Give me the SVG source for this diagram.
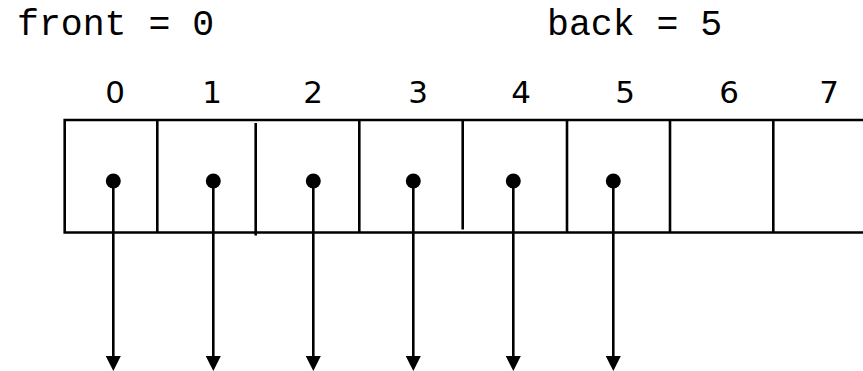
<svg xmlns="http://www.w3.org/2000/svg" width="863" height="371" viewBox="0 0 863 371">
  <style>
    .code { font-family: "Liberation Mono", "Courier New", monospace; font-size: 36.5px; fill: #000; }
    .idx { font-family: "DejaVu Sans", "Liberation Sans", sans-serif; font-size: 31px; fill: #000; text-anchor: middle; }
    .edge { stroke: #000; stroke-width: 2.6; fill: none; }
    .ptr { stroke: #000; stroke-width: 2.6; fill: none; marker-end: url(#arrow); }
    .dot { fill: #000; }
  </style>
  <defs>
    <!-- solid triangular head, drawn along +x so orient="auto" turns it with the line -->
    <marker id="arrow" markerWidth="15" markerHeight="15" refX="1" refY="7.5" orient="auto" markerUnits="userSpaceOnUse" viewBox="0 0 15 15">
      <path d="M0,0 L15,7.5 L0,15 Z" fill="#000"/>
    </marker>
  </defs>
  <rect width="863" height="371" fill="#fff"/>

  <g id="labels">
    <text class="code" x="17" y="35">front = 0</text>
    <text class="code" x="547" y="35">back = 5</text>
  </g>

  <g id="indices">
    <text class="idx" x="115" y="103">0</text>
    <text class="idx" x="212" y="103">1</text>
    <text class="idx" x="313" y="103">2</text>
    <text class="idx" x="418" y="103">3</text>
    <text class="idx" x="521" y="103">4</text>
    <text class="idx" x="625" y="103">5</text>
    <text class="idx" x="729" y="103">6</text>
    <text class="idx" x="829" y="103">7</text>
  </g>

  <g id="array">
    <path class="edge" d="M865,120 H64.7 V232.5 H865"/>
    <line class="edge" x1="157.3" y1="120" x2="157.3" y2="232.5"/>
    <line class="edge" x1="255.7" y1="123" x2="255.7" y2="235.5"/>
    <line class="edge" x1="359.3" y1="120" x2="359.3" y2="232.5"/>
    <line class="edge" x1="462.7" y1="120" x2="462.7" y2="229.5"/>
    <line class="edge" x1="567" y1="120" x2="567" y2="232.5"/>
    <line class="edge" x1="670" y1="120" x2="670" y2="232.5"/>
    <line class="edge" x1="773.3" y1="120" x2="773.3" y2="232.5"/>
  </g>

  <g id="pointers">
    <line class="ptr" x1="113.3" y1="181" x2="113.3" y2="357"/>
    <line class="ptr" x1="213.3" y1="181" x2="213.3" y2="357"/>
    <line class="ptr" x1="313.3" y1="181" x2="313.3" y2="357"/>
    <line class="ptr" x1="413.3" y1="181" x2="413.3" y2="357"/>
    <line class="ptr" x1="513.3" y1="181" x2="513.3" y2="357"/>
    <line class="ptr" x1="613.3" y1="181" x2="613.3" y2="357"/>
    <circle class="dot" cx="113.3" cy="181" r="7.5"/>
    <circle class="dot" cx="213.3" cy="181" r="7.5"/>
    <circle class="dot" cx="313.3" cy="181" r="7.5"/>
    <circle class="dot" cx="413.3" cy="181" r="7.5"/>
    <circle class="dot" cx="513.3" cy="181" r="7.5"/>
    <circle class="dot" cx="613.3" cy="181" r="7.5"/>
  </g>
</svg>
